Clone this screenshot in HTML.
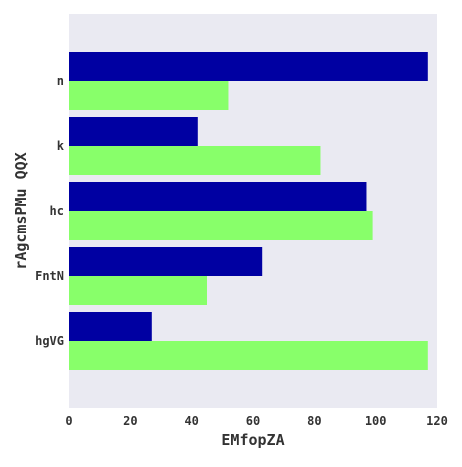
<!DOCTYPE html>
<html><head><meta charset="utf-8"><style>
body{margin:0;background:#fff;}
svg text{font-family:"DejaVu Sans Mono","Liberation Mono",monospace;font-weight:bold;fill:#333;}
</style></head><body>
<svg id="chart" width="462" height="462">
<rect x="69" y="14" width="368" height="394" fill="#eaeaf2"/>
<g id="bars"></g><g id="axes"></g>
<text x="253" y="445" font-size="15" text-anchor="middle">EMfopZA</text>
<text transform="translate(26,211) rotate(-90)" font-size="15" text-anchor="middle">rAgcmsPMu QQX</text>
</svg>
<script>
const categories=["n","k","hc","FntN","hgVG"];
const seriesDark=[117,42,97,63,27];
const seriesGreen=[52,82,99,45,117];
const xTicks=[0,20,40,60,80,100,120];
const NS="http://www.w3.org/2000/svg";
const x0=69,x1=437,xMax=120;
const xs=v=>x0+(v/xMax)*(x1-x0);
const yTop=14,yBot=408;
const band=65,firstC=81;
const yc=i=>firstC+i*band;
const bh=29;
const bars=document.getElementById('bars'),axes=document.getElementById('axes');
categories.forEach((c,i)=>{
 const d=document.createElementNS(NS,'rect');
 d.setAttribute('x',x0);d.setAttribute('y',yc(i)-bh);d.setAttribute('width',xs(seriesDark[i])-x0);d.setAttribute('height',bh);d.setAttribute('fill','#0000a2');
 
 
 bars.appendChild(d);
 const g=document.createElementNS(NS,'rect');
 g.setAttribute('x',x0);g.setAttribute('y',yc(i));g.setAttribute('width',xs(seriesGreen[i])-x0);g.setAttribute('height',bh);g.setAttribute('fill','#88ff6a');
 
 
 bars.appendChild(g);
 const t=document.createElementNS(NS,'text');
 t.setAttribute('x',64);t.setAttribute('y',yc(i)+4);t.setAttribute('font-size','12');t.setAttribute('text-anchor','end');t.textContent=c;
 
 
 axes.appendChild(t);
});
xTicks.forEach(v=>{
 const t=document.createElementNS(NS,'text');
 t.setAttribute('x',xs(v));t.setAttribute('y',425);t.setAttribute('font-size','12');t.setAttribute('text-anchor','middle');t.textContent=v;
 
 
 axes.appendChild(t);
});
</script>
</body></html>
